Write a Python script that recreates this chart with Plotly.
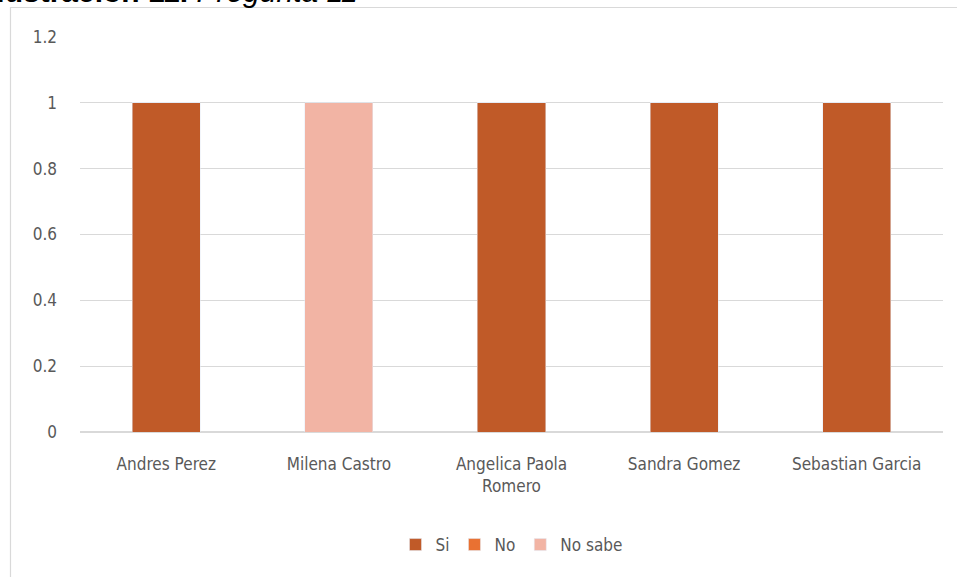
import plotly.graph_objects as go

categories = ["Andres Perez", "Milena Castro", "Angelica Paola<br>Romero", "Sandra Gomez", "Sebastian Garcia"]
si = [1, 0, 1, 1, 1]
no = [0, 0, 0, 0, 0]
no_sabe = [0, 1, 0, 0, 0]
y_ticks = [0, 0.2, 0.4, 0.6, 0.8, 1, 1.2]
y_labels = ["0", "0.2", "0.4", "0.6", "0.8", "1", "1.2"]

W, H = 957, 577
L, R, T, B = 80, 14, 37, 145
pw, ph = W - L - R, H - T - B

def px_x(x):
    return (x - L) / pw

def px_y(y):
    return (H - B - y) / ph

font_family = "DejaVu Sans Condensed, Roboto, sans-serif"

fig = go.Figure()
fig.add_bar(x=categories, y=si, name="Si", marker_color="#C05A28")
fig.add_bar(x=categories, y=no, name="No", marker_color="#E97132")
fig.add_bar(x=categories, y=no_sabe, name="No sabe", marker_color="#F2B4A4")

fig.update_layout(
    width=W, height=H,
    margin=dict(l=L, r=R, t=T, b=B, pad=0),
    barmode="stack",
    bargap=0.605,
    paper_bgcolor="white",
    plot_bgcolor="white",
    font=dict(family=font_family, size=17, color="#595959"),
    showlegend=True,
    legend=dict(orientation="h", x=0.5, xanchor="center", y=px_y(545), yanchor="middle",
                font=dict(size=17, color="#595959"), itemwidth=30, traceorder="normal"),
    xaxis=dict(showgrid=False, showline=False, ticks="", ticklabelstandoff=20,
               tickfont=dict(size=17, color="#595959")),
    yaxis=dict(range=[0, 1.2], tickvals=y_ticks, ticktext=y_labels, showgrid=True,
               gridcolor="#D9D9D9", gridwidth=1, zeroline=True, zerolinecolor="#D9D9D9",
               showline=False, ticks="", ticklabelstandoff=22,
               tickfont=dict(size=17, color="#595959")),
)

# chart frame (partially cropped like the reference)
fig.add_shape(type="rect", xref="paper", yref="paper",
              x0=px_x(10.5), x1=px_x(1000), y0=px_y(620), y1=px_y(7.5),
              line=dict(color="#D9D9D9", width=1.2), fillcolor="rgba(0,0,0,0)", layer="below")

# cropped caption above chart
fig.add_annotation(xref="paper", yref="paper", x=px_x(-14), xanchor="left",
                   y=px_y(10), yanchor="bottom", showarrow=False,
                   text="<b>Ilustración 11.</b> <i>Pregunta 11</i>",
                   font=dict(family="Liberation Sans, Arial, sans-serif", size=30, color="#000000"))

fig.write_html("out.html")
